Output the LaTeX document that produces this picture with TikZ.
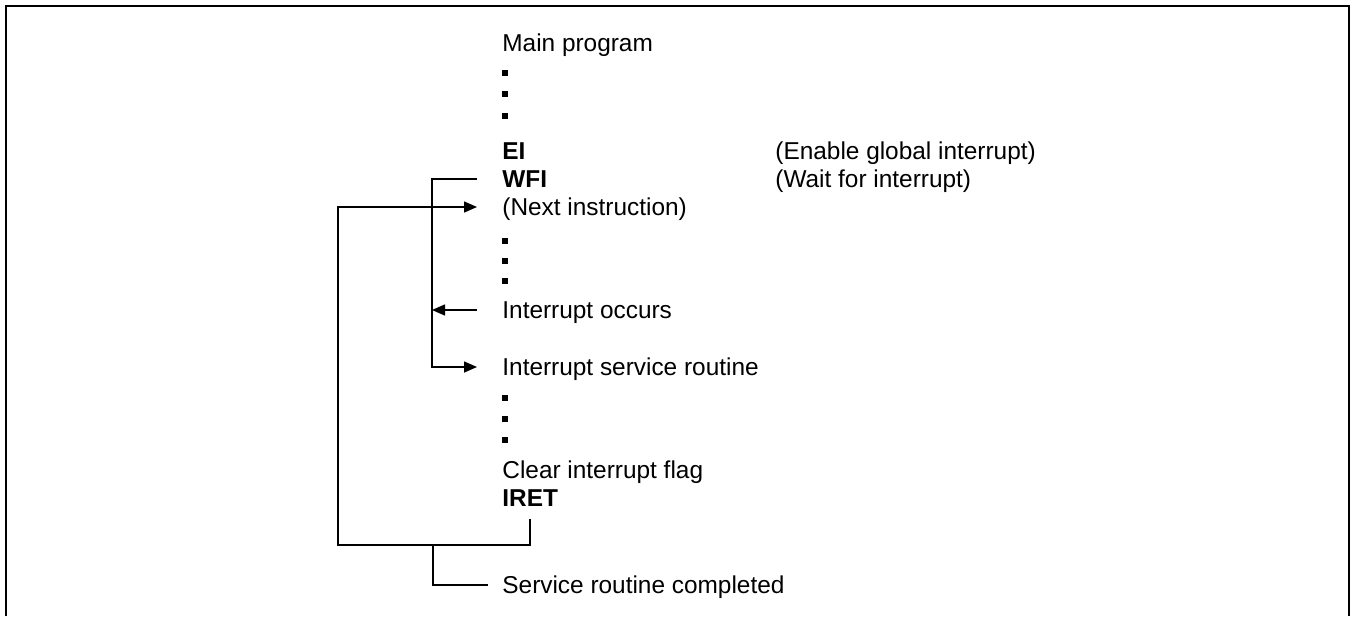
\documentclass[tikz,border=0pt]{standalone}
\usepackage{fontspec}
\setmainfont{Liberation Sans}
\usetikzlibrary{arrows.meta, positioning}

\begin{document}
\begin{tikzpicture}[
    x=0.5pt, y=-0.5pt,
    txt/.style={inner xsep=12.5pt, inner ysep=0pt, text height=8.75pt,
                text depth=0pt, anchor=west,
                font=\fontsize{12.2pt}{14pt}\selectfont},
    dotmark/.style={fill=black, inner sep=0pt, minimum size=2.6pt},
    wire/.style={line width=0.75pt},
    >={Triangle[length=6.5pt, width=5.5pt]}
  ]
  \useasboundingbox (0,0) rectangle (1352,616);

  % Frame
  \draw[line width=1pt] (6,616) |- (1349,6) -- (1349,616);

  % Main program
  \node[txt] (main) at (477,43) {Main program};
  \foreach \y [count=\i] in {73,94,116}
    \node[dotmark] (dotA\i) at (505,\y) {};
  \node[txt] (ei) at (477,151) {\textbf{EI}};
  \node[txt] (wfi) at (477,179) {\textbf{WFI}};
  \node[txt] (next) at (477,207) {(Next instruction)};
  \foreach \y [count=\i] in {241,261,281}
    \node[dotmark] (dotB\i) at (505,\y) {};
  \node[txt] (occ) at (477,310) {Interrupt occurs};

  % Interrupt service routine
  \node[txt] (isr) at (477,367) {Interrupt service routine};
  \foreach \y [count=\i] in {398,419,440}
    \node[dotmark] (dotC\i) at (505,\y) {};
  \node[txt] (clr) at (477,470) {Clear interrupt flag};
  \node[txt] (iret) at (477,498) {\textbf{IRET}};
  \node[txt] (done) at (477,585) {Service routine completed};

  % Comments
  \node[txt] (eicom) at (750,151) {(Enable global interrupt)};
  \node[txt] (wficom) at (750,179) {(Wait for interrupt)};

  % Arrows
  \coordinate (retcorner) at (338,545);
  \coordinate (split) at (433,545);
  \draw[wire,->] (wfi.west) -- ++(-45,0) |- (isr.west);
  \draw[wire,->] (occ.west) -- ++(-45,0);
  \draw[wire,->] ([yshift=-6pt]iret.south) |- (retcorner) |- (next.west);
  \draw[wire] (split) |- ([xshift=5.5pt]done.west);

\end{tikzpicture}
\end{document}
